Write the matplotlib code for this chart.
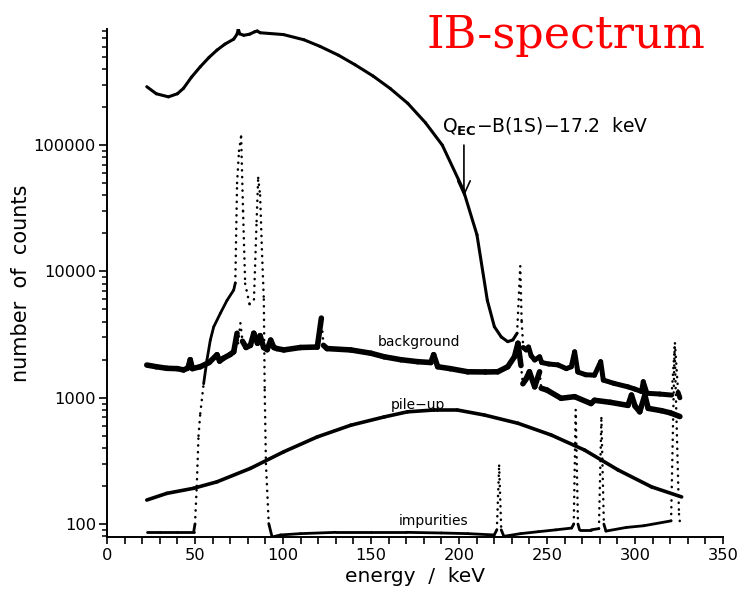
import numpy as np
import matplotlib
matplotlib.use("Agg")
from matplotlib import pyplot as plt
from matplotlib.collections import LineCollection
from matplotlib.ticker import LogLocator, NullFormatter, FixedLocator, MultipleLocator

# IB spectrum (main curve up to the 235 keV line)
ib_energy = [22.6, 28, 34.9, 40, 43.5, 48, 53, 58, 62.5, 67, 72, 73.9, 74.6, 75.4, 77.7,
             81, 84, 85.4, 87, 92.3, 100.2, 111.9, 121, 131.6, 141, 151.2, 161, 170.9,
             181, 190.5, 202.3, 210.2, 216.1, 220.1, 224, 227.7, 230.6, 233, 234.8]
ib_counts = [290000, 255000, 241000, 255000, 282000, 345000, 417000, 495000, 565000, 630000,
             690000, 755000, 830000, 760000, 740000, 755000, 790000, 800000, 775000, 765000,
             750000, 682000, 605000, 514000, 432000, 352000, 280000, 214000, 150000, 100000,
             44700, 19500, 5900, 3650, 3030, 2780, 2870, 3240, 11000]

# upper curve above 235 keV
tail_energy = [234.8, 235.6, 236.5, 238.2, 239.5, 241, 243, 245.8, 247, 251, 256.2, 261,
               263.8, 265.7, 267.5, 272, 277, 280.5, 282, 288, 296, 300, 303.7, 304.7,
               306.8, 314, 320.8, 322.7, 324.5, 325.5]
tail_counts = [11000, 4000, 2500, 2390, 2520, 2150, 1990, 2110, 1900, 1850, 1820, 1700,
               1760, 2310, 1600, 1520, 1510, 1930, 1380, 1300, 1220, 1170, 1120, 1340,
               1085, 1070, 1050, 2700, 1100, 1000]

bg_energy = [22.6, 28, 34, 40, 43.5, 46, 47.3, 48.5, 53, 58, 62.5, 64, 66, 70, 72, 73.9,
             74.5, 75.8, 77, 79, 81.5, 83.4, 85.5, 87, 89, 91, 93, 94.8, 96.5, 100.5, 110,
             119.5, 121.8, 123, 125, 138.5, 150, 157.5, 167, 176.5, 184, 185.6, 187.9, 195,
             205, 215, 222, 227.7, 231.5, 233.5, 235.2, 236.3, 238, 240, 243, 245.8, 246.7,
             250, 258, 265.7, 275, 277, 286, 296, 298, 300, 302.7, 305.6, 307.5, 315, 320,
             325.5]
bg_counts = [1815, 1760, 1710, 1700, 1660, 1720, 2000, 1700, 1760, 1900, 2190, 1950, 2050,
             2200, 2310, 3240, 2700, 3890, 2800, 2500, 2600, 3240, 2700, 3100, 2500, 2400,
             2860, 2500, 2450, 2390, 2500, 2520, 4270, 2600, 2450, 2390, 2250, 2110, 2000,
             1930, 1900, 2190, 1760, 1700, 1605, 1600, 1605, 1760, 2110, 2700, 1800, 1290,
             1400, 1605, 1220, 1605, 1190, 1150, 990, 1020, 900, 955, 920, 870, 1050, 860,
             774, 1050, 824, 790, 760, 710]

pileup_energy = [22.6, 34, 49.2, 62.5, 81.5, 100.5, 119.5, 138.5, 157.5, 170.8, 186, 199,
                 214.4, 233.5, 252.4, 271.4, 290.4, 309.4, 326.5]
pileup_counts = [155, 175, 192, 216, 276, 374, 490, 606, 705, 774, 800, 800, 730, 628, 507,
                 385, 268, 197, 164]

imp_energy = [22.6, 30, 40, 49.2, 50, 51, 52, 53, 54.9, 56.8, 58.7, 60.6, 64.4, 68.2, 72,
              72.9, 73.9, 75, 76.2, 77.3, 78.5, 81, 83.5, 85, 85.9, 87, 88, 89.1, 89.6, 90.3,
              91.9, 93.8, 98.6, 110, 130, 150, 170, 190, 205, 220, 221.5, 222.8, 224, 225.5,
              235, 245, 255, 264, 265.2, 266.3, 267.6, 268.5, 275, 279.5, 280.9, 282.3, 283.5,
              295, 305, 320.5, 322.5, 325, 325.8]
imp_counts = [86, 86, 86, 86, 100, 200, 500, 750, 1290, 1990, 2860, 3630, 4660, 5900, 7130,
              8100, 50000, 90000, 117000, 30000, 8000, 5500, 6000, 25000, 55000, 40000, 15000,
              6000, 1150, 300, 101, 79, 82, 84, 86, 86, 86, 85, 84, 82, 90, 290, 90, 80, 84,
              87, 90, 93, 100, 800, 100, 90, 90, 92, 690, 100, 88, 94, 97, 106, 2500, 120, 95]

x_ticks = [0, 50, 100, 150, 200, 250, 300, 350]
y_ticks = [100, 1000, 10000, 100000]
y_ticklabels = ["100", "1000", "10000", "100000"]

PX_KEV = 1.755
PX_DECADE = 126.3


def draw_curve(ax, energy, counts, lw, dotted_span=None):
    e = np.array(energy, dtype=float)
    c = np.array(counts, dtype=float)
    slope = np.abs(np.diff(np.log10(c))) * PX_DECADE / (np.diff(e) * PX_KEV)
    steep = slope > 8
    if dotted_span is not None:
        lo, hi = dotted_span
        steep |= (e[:-1] >= lo) & (e[1:] <= hi)
    segs = [[(e[i], c[i]), (e[i + 1], c[i + 1])] for i in range(len(e) - 1)]
    styles = [(0, (0.1, 2.6)) if s else "solid" for s in steep]
    widths = [min(lw, 1.8) if s else lw for s in steep]
    lc = LineCollection(segs, colors="black", linewidths=widths, linestyles=styles,
                        capstyle="round", joinstyle="round")
    ax.add_collection(lc)


fig = plt.figure(figsize=(7.39, 5.90), dpi=100)
ax = fig.add_axes([107 / 739, 53 / 590, 616 / 739, 508 / 590])
ax.set_yscale("log")
ax.set_xlim(0, 350)
ax.set_ylim(79, 830000)

draw_curve(ax, ib_energy, ib_counts, 2.2)
draw_curve(ax, tail_energy, tail_counts, 3.6)
draw_curve(ax, bg_energy, bg_counts, 4.0)
draw_curve(ax, pileup_energy, pileup_counts, 2.6)
draw_curve(ax, imp_energy, imp_counts, 2.0, dotted_span=(73, 90.3))

ax.text(177.2, 2760, "background", fontsize=10, ha="center", va="center")
ax.text(176.5, 875, "pile\u2212up", fontsize=10, ha="center", va="center")
ax.text(185.8, 106, "impurities", fontsize=10, ha="center", va="center")

ax.annotate("", xy=(202.8, 39000), xytext=(202.8, 100000),
            arrowprops=dict(arrowstyle="->,head_length=1.0,head_width=0.45", lw=1.2,
                            color="black", shrinkA=0, shrinkB=0))
ax.text(190.2, 140000, "Q$_{\\mathbf{EC}}$\u2212B(1S)\u221217.2  keV", fontsize=13.5,
        ha="left", va="center")

fig.text(0.766, 0.919, "IB-spectrum", color="red", fontsize=32, family="DejaVu Serif",
         ha="center", va="baseline")

for side in ["top", "right"]:
    ax.spines[side].set_visible(False)
for side in ["left", "bottom"]:
    ax.spines[side].set_linewidth(1.4)

ax.xaxis.set_major_locator(FixedLocator(x_ticks))
ax.xaxis.set_minor_locator(MultipleLocator(10))
ax.yaxis.set_major_locator(FixedLocator(y_ticks))
ax.set_yticklabels(y_ticklabels)
ax.yaxis.set_minor_locator(LogLocator(base=10, subs=np.arange(2, 10), numticks=20))
ax.yaxis.set_minor_formatter(NullFormatter())
ax.tick_params(axis="x", which="both", direction="out", length=5, width=1.2,
               labelsize=11.7, pad=3)
ax.tick_params(axis="y", which="major", direction="out", length=6, width=1.2,
               labelsize=11.7, pad=2)
ax.tick_params(axis="y", which="minor", direction="out", length=3.5, width=1.1)

ax.set_xlabel("energy  /  keV", fontsize=14.5)
ax.set_ylabel("number  of  counts", fontsize=15)
ax.xaxis.set_label_coords(0.5, -0.06)
ax.yaxis.set_label_coords(-0.123, 0.5)

fig.savefig("out.png", dpi=100)
